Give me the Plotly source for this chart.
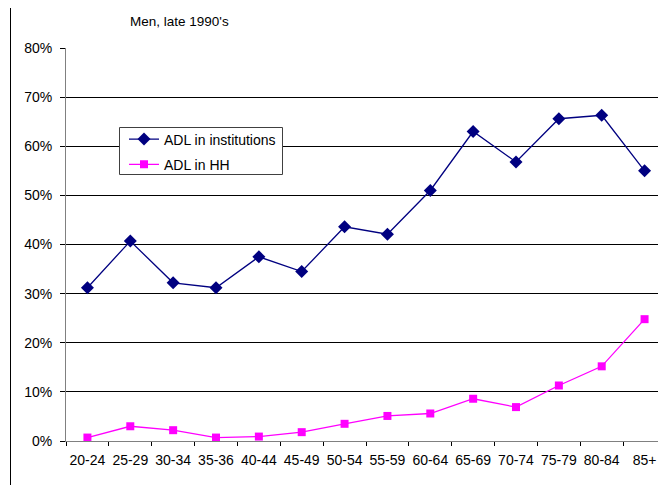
import plotly.graph_objects as go

categories = ["20-24", "25-29", "30-34", "35-36", "40-44", "45-49", "50-54",
              "55-59", "60-64", "65-69", "70-74", "75-79", "80-84", "85+"]
adl_institutions = [0.312, 0.407, 0.322, 0.312, 0.375, 0.345, 0.436,
                    0.421, 0.510, 0.630, 0.568, 0.656, 0.663, 0.550]
adl_hh = [0.007, 0.030, 0.022, 0.007, 0.009, 0.018, 0.035,
          0.051, 0.056, 0.086, 0.069, 0.113, 0.152, 0.248]
y_ticks = [0, 0.1, 0.2, 0.3, 0.4, 0.5, 0.6, 0.7, 0.8]

FONT = "Liberation Sans, Arial, sans-serif"

fig = go.Figure()
fig.add_trace(go.Scatter(
    x=categories, y=adl_institutions, name="ADL in institutions",
    mode="lines+markers", legendgroup="a",
    line=dict(color="#000080", width=1.3),
    marker=dict(symbol="diamond", size=10, color="#000080"),
))
fig.add_trace(go.Scatter(
    x=categories, y=adl_hh, name="ADL in HH",
    mode="lines+markers", legendgroup="b",
    line=dict(color="#FF00FF", width=1.3),
    marker=dict(symbol="square", size=8, color="#FF00FF"),
))

# page has an 8px body margin; work in page pixels and shift
OFF = 8
FW, FH = 666 - OFF, 485 - OFF
L, R, T, B = 66 - OFF, 666 - OFF, 48 - OFF, 441 - OFF
W, H = R - L, B - T

def px(x):
    return (x - OFF - L) / W

def py(y):
    return (B - (y - OFF)) / H

fig.update_layout(
    width=FW, height=FH,
    margin=dict(l=L, r=FW - R, t=T, b=FH - B, pad=0, autoexpand=False),
    paper_bgcolor="white", plot_bgcolor="white",
    font=dict(family=FONT, size=14, color="black"),
    showlegend=True,
    legend=dict(
        x=px(124), y=py(123.5), xanchor="left", yanchor="top",
        bgcolor="rgba(0,0,0,0)", borderwidth=0,
        font=dict(family=FONT, size=14, color="black"),
        itemwidth=30, tracegroupgap=4,
    ),
    xaxis=dict(
        type="category", range=[-0.5, 13.5], autorange=False,
        showgrid=False, showline=True, linecolor="#808080",
        linewidth=1, ticks="outside", ticklen=4, tickcolor="#000000",
        tickson="boundaries", zeroline=False, fixedrange=True,
        tickangle=0, automargin=False, ticklabelstandoff=6,
        tickfont=dict(family=FONT, size=14),
    ),
    yaxis=dict(
        range=[0, 0.8], tickvals=y_ticks, tickformat=".0%",
        showgrid=True, gridcolor="black", gridwidth=1,
        showline=True, linecolor="#808080", linewidth=1,
        ticks="outside", ticklen=5, tickcolor="#000000",
        zeroline=False, fixedrange=True, automargin=False,
        ticklabelstandoff=5,
        tickfont=dict(family=FONT, size=14),
    ),
    annotations=[dict(
        text="Men, late 1990's", xref="paper", yref="paper",
        x=px(179), y=py(22), xanchor="center", yanchor="middle",
        showarrow=False, font=dict(family=FONT, size=13.5, color="black"),
    )],
    shapes=[
        dict(type="line", xref="paper", yref="paper",
             x0=px(10.5), x1=px(10.5), y0=py(5.5), y1=py(490),
             line=dict(color="black", width=1)),
        dict(type="line", xref="paper", yref="paper",
             x0=px(10.5), x1=px(670), y0=py(5.5), y1=py(5.5),
             line=dict(color="black", width=1)),
        # legend box
        dict(type="rect", xref="paper", yref="paper", layer="above",
             x0=px(119.5), x1=px(282.5), y0=py(127.5), y1=py(174.5),
             fillcolor="white", line=dict(color="#404040", width=1)),
    ],
)

fig.write_html("out.html")
